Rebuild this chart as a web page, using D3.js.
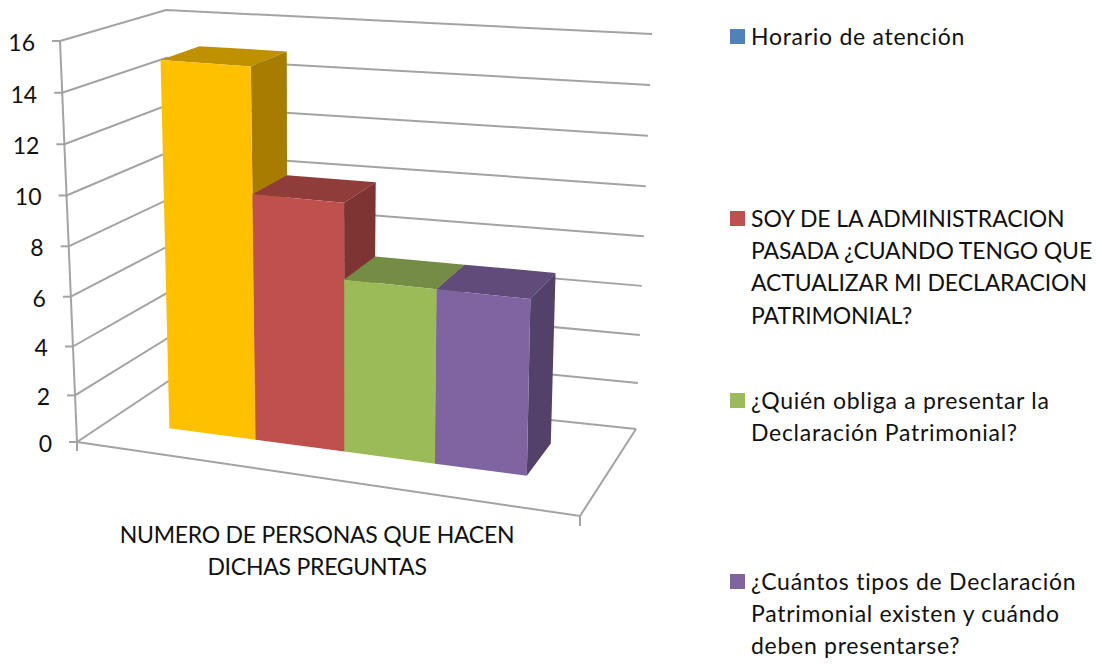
<!DOCTYPE html>
<html>
<head>
<meta charset="utf-8">
<script src="https://cdn.jsdelivr.net/npm/d3@7"></script>
<style>
  html, body { margin: 0; padding: 0; background: #fff; }
  svg { display: block; }
  text { font-family: Lato, sans-serif; fill: #111; }
</style>
</head>
<body>
<svg id="chart"></svg>
<script>
var categories = ["Horario de atención", "SOY DE LA ADMINISTRACION PASADA", "¿Quién obliga", "¿Cuántos tipos"];
var values = [15, 10, 7, 7];
var barColors = ["#FFC000", "#C0504D", "#9BBB59", "#8064A2"];
var yTicks = [0, 2, 4, 6, 8, 10, 12, 14, 16];
var axisLabel = ["NUMERO DE PERSONAS QUE HACEN", "DICHAS PREGUNTAS"];
var legendColors = ["#4F81BD", "#C0504D", "#9BBB59", "#8064A2"];
var legendLines = [
  ["Horario de atención"],
  ["SOY DE LA ADMINISTRACION", "PASADA ¿CUANDO TENGO QUE", "ACTUALIZAR MI DECLARACION", "PATRIMONIAL?"],
  ["¿Quién obliga a presentar la", "Declaración Patrimonial?"],
  ["¿Cuántos tipos de Declaración", "Patrimonial existen y cuándo", "deben presentarse?"]
];

var width = 1102, height = 664;
var svg = d3.select("#chart").attr("width", width).attr("height", height);

// corners of the 3d box as they land on the page: [left/right][front/back][bottom/top]
var box = {
  lfb: [77, 442], lft: [60, 41], lbb: [170, 380], lbt: [166, 10],
  rfb: [580, 516], rft: [590, 82], rbb: [636, 429], rbt: [652, 34]
};

// pow scales stand in for the perspective squeeze
var yScale = d3.scalePow().exponent(1.035).domain([0, 16]).range([0, 1]);
var xWarp = d3.scalePow().exponent(1.05).domain([0, 1]).range([0, 1]);
var xBand = d3.scaleBand().domain(categories).range([0.135, 0.858]);
var depthFront = 0.35, depthBack = 0.74;

function project(u, w, v) {
  return [0, 1].map(i => {
    var fb = box.lfb[i] + (box.rfb[i] - box.lfb[i]) * u;
    var bb = box.lbb[i] + (box.rbb[i] - box.lbb[i]) * u;
    var ft = box.lft[i] + (box.rft[i] - box.lft[i]) * u;
    var bt = box.lbt[i] + (box.rbt[i] - box.lbt[i]) * u;
    var b = fb + (bb - fb) * w;
    var t = ft + (bt - ft) * w;
    return b + (t - b) * v;
  });
}

var line = d3.line();
var gridColor = "#a3a3a3";

function stroke(points) {
  svg.append("path")
    .attr("d", line(points))
    .attr("fill", "none")
    .attr("stroke", gridColor)
    .attr("stroke-width", 2);
}

// gridlines, left wall then back wall
yTicks.forEach(t => {
  var v = yScale(t);
  stroke([project(0, 0, v), project(0, 1, v), project(1, 1, v)]);
});

// floor and value axis
stroke([box.lfb, box.rfb, box.rbb]);
stroke([box.lfb, box.lft]);
stroke([box.lfb, [box.lfb[0], box.lfb[1] + 9]]);
stroke([box.rfb, [box.rfb[0], box.rfb[1] + 10]]);

// ticks and labels
yTicks.forEach(t => {
  var p = project(0, 0, yScale(t));
  stroke([[p[0] - 8, p[1]], p]);
  svg.append("text")
    .attr("x", p[0] - 25)
    .attr("y", p[1] + 10)
    .attr("text-anchor", "end")
    .style("font-size", "23px")
    .text(t);
});

function shade(c, k) {
  var r = d3.rgb(c);
  return d3.rgb(r.r * k, r.g * k, r.b * k).formatHex();
}

// bars, left to right so each one covers the side of the one before
categories.forEach((c, i) => {
  var u0 = xWarp(xBand(c));
  var u1 = xWarp(xBand(c) + xBand.bandwidth());
  var v = yScale(values[i]);
  var color = barColors[i];
  var faces = [
    { k: 0.75, pts: [project(u0, depthFront, v), project(u1, depthFront, v), project(u1, depthBack, v), project(u0, depthBack, v)] },
    { k: 0.65, pts: [project(u1, depthFront, 0), project(u1, depthBack, 0), project(u1, depthBack, v), project(u1, depthFront, v)] },
    { k: 1, pts: [project(u0, depthFront, 0), project(u1, depthFront, 0), project(u1, depthFront, v), project(u0, depthFront, v)] }
  ];
  svg.selectAll(null)
    .data(faces)
    .enter()
    .append("path")
      .attr("d", d => line(d.pts) + "Z")
      .attr("fill", d => shade(color, d.k));
});

// category label
svg.selectAll(null)
  .data(axisLabel)
  .enter()
  .append("text")
    .attr("x", 317)
    .attr("y", (d, i) => 543 + i * 32)
    .attr("text-anchor", "middle")
    .style("font-size", "23px")
    .style("letter-spacing", "-0.25px")
    .text(d => d);

// legend
var legendTop = [29, 211, 393, 574];
legendLines.forEach((lines, i) => {
  svg.append("rect")
    .attr("x", 730)
    .attr("y", legendTop[i])
    .attr("width", 15)
    .attr("height", 15)
    .attr("fill", legendColors[i]);
  svg.selectAll(null)
    .data(lines)
    .enter()
    .append("text")
      .attr("x", 751)
      .attr("y", (d, j) => legendTop[i] + 15.5 + j * 32.4)
      .style("font-size", "23px")
      // caps run wider in Lato than the lower case does
      .style("letter-spacing", d => d === d.toUpperCase() ? "-0.1px" : "0.72px")
      .text(d => d);
});
</script>
</body>
</html>
